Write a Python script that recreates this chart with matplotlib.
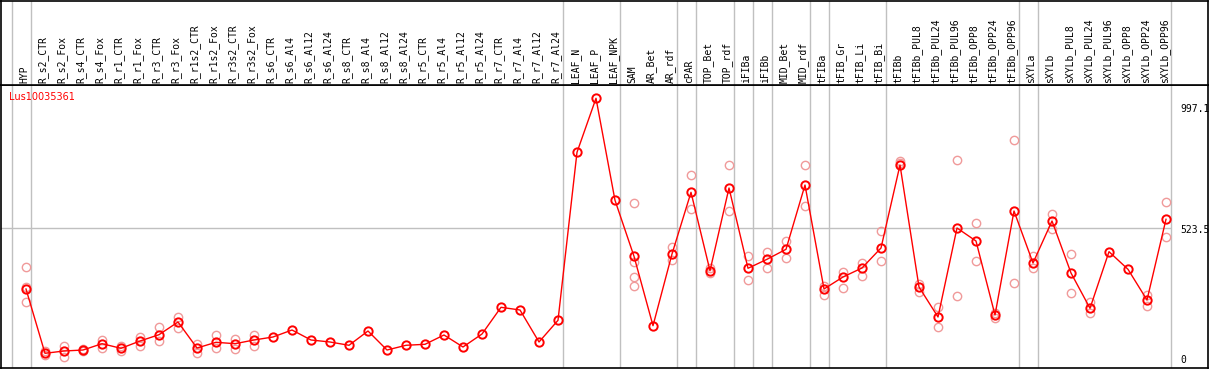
import matplotlib.pyplot as plt
import matplotlib.transforms as mtransforms

# sample names along the top
SAMPLES = ['HYP',
           'R_s2_CTR', 'R_s2_Fox', 'R_s4_CTR', 'R_s4_Fox', 'R_r1_CTR', 'R_r1_Fox',
           'R_r3_CTR', 'R_r3_Fox', 'R_r1s2_CTR', 'R_r1s2_Fox', 'R_r3s2_CTR', 'R_r3s2_Fox',
           'R_s6_CTR', 'R_s6_Al4', 'R_s6_Al12', 'R_s6_Al24',
           'R_s8_CTR', 'R_s8_Al4', 'R_s8_Al12', 'R_s8_Al24',
           'R_r5_CTR', 'R_r5_Al4', 'R_r5_Al12', 'R_r5_Al24',
           'R_r7_CTR', 'R_r7_Al4', 'R_r7_Al12', 'R_r7_Al24',
           'LEAF_N', 'LEAF_P', 'LEAF_NPK',
           'SAM', 'AR_Bet', 'AR_rdf',
           'cPAR', 'TOP_Bet', 'TOP_rdf', 'iFIBa', 'iFIBb', 'MID_Bet', 'MID_rdf',
           'tFIBa', 'tFIB_Gr', 'tFIB_Li', 'tFIB_Bi',
           'tFIBb', 'tFIBb_PUL8', 'tFIBb_PUL24', 'tFIBb_PUL96',
           'tFIBb_OPP8', 'tFIBb_OPP24', 'tFIBb_OPP96',
           'sXYLa',
           'sXYLb', 'sXYLb_PUL8', 'sXYLb_PUL24', 'sXYLb_PUL96',
           'sXYLb_OPP8', 'sXYLb_OPP24', 'sXYLb_OPP96']

# number of samples in each group (gray separators between groups)
GROUP_SIZES = [1, 28, 3, 3, 1, 2, 1, 1, 2, 1, 3, 7, 1, 7]

# mean expression per sample
MEANS = [302.4,
         68.1, 76.5, 80.1, 103.1, 86.3, 112.9,
         135.9, 182.1, 87.4, 108.2, 103.1, 116.6,
         127.5, 153.0, 116.6, 109.3,
         97.3, 149.4, 80.1, 97.3,
         100.9, 134.8, 91.1, 138.4,
         235.7, 225.9, 109.3, 188.3,
         800.4, 997.1, 625.5,
         421.5, 168.7, 429.9,
         654.6, 369.0, 670.3, 377.8, 410.6, 447.0, 681.2,
         302.4, 346.1, 378.9, 451.7,
         754.1, 309.7, 200.4, 524.6,
         477.2, 207.7, 586.5,
         397.1,
         550.1, 360.7, 232.1, 438.3,
         374.1, 262.3, 556.3]

# individual replicates (empty where they sit under the mean)
REPLICATES = [[381.4, 310.7, 256.1],
              [76.5, 61.9], [95.8, 53.6], [83.8, 77.6], [117.7, 88.5], [94.7, 75.4], [128.6, 93.6],
              [162.8, 111.8], [201.5, 159.2], [102.0, 68.1], [134.8, 86.3], [119.1, 83.8], [135.9, 93.6],
              [], [], [], [],
              [], [], [], [],
              [], [], [], [],
              [], [], [], [],
              [], [], [],
              [614.6, 401.8, 345.0, 314.4], [], [455.4, 408.0],
              [717.7, 593.8], [377.8, 359.6], [754.1, 585.4], [421.5, 335.2], [436.1, 380.0],
              [477.2, 416.4], [754.1, 603.6],
              [313.3, 280.5], [364.3, 306.0], [397.1, 349.7], [513.7, 404.4],
              [768.7, 761.4], [320.6, 291.4], [236.8, 163.9], [772.3, 276.9],
              [542.8, 404.4], [214.9, 196.7], [845.2, 324.2],
              [422.6, 378.9],
              [575.6, 520.9], [429.9, 287.8], [253.9, 213.8], [],
              [], [280.5, 241.5], [618.2, 492.9]]

GENE_NAME = 'Lus10035361'
Y_LABELS = ['997.1', '523.5', '0']
Y_LABEL_VALUES = [997.1, 523.5, 0]
GRID_VALUE = 523.5

LINE_COLOR = '#ff0000'
REP_COLOR = '#f09a9a'
SEP_COLOR = '#c0c0c0'
FONT = 'DejaVu Sans Mono'

W, H = 1209, 370
fig = plt.figure(figsize=(W / 100, H / 100), dpi=100)

# pixel layout: columns 19 px apart, first at x=26
x_lo = (0.5 - 26) / 19
x_hi = (1208 - 26) / 19
y_lo = (372 - 368) / 0.2745
y_hi = (372 - 85) / 0.2745

ax = fig.add_axes([0.5 / W, 2 / H, 1207.5 / W, 283 / H])
ax_top = fig.add_axes([0.5 / W, 285 / H, 1207.5 / W, 84.5 / H])

for a in (ax, ax_top):
    a.set_xlim(x_lo, x_hi)
    a.set_xticks([])
    a.set_yticks([])
    for s in a.spines.values():
        s.set_color('black')
        s.set_linewidth(1.2)
ax.set_ylim(y_lo, y_hi)
ax_top.set_ylim(0, 1)

# group separators
seps = [-1]
n = -1
for g in GROUP_SIZES:
    n += g
    seps.append(n)
for s in seps:
    for a in (ax, ax_top):
        a.axvline(s + 0.24, color=SEP_COLOR, lw=1, zorder=1)

ax.hlines(GRID_VALUE, x_lo, len(SAMPLES) - 1 + 0.26, color=SEP_COLOR, lw=1, zorder=1)

xs = list(range(len(SAMPLES)))

# replicates
for i, reps in enumerate(REPLICATES):
    if reps:
        ax.plot([i] * len(reps), reps, 'o', ms=6, mfc='none', mec=REP_COLOR,
                mew=1, zorder=2, clip_on=False)

# means
ax.plot(xs, MEANS, '-', color=LINE_COLOR, lw=1, zorder=3)
ax.plot(xs, MEANS, 'o', ms=6, mfc='none', mec=LINE_COLOR, mew=1.4, zorder=4)

# sample labels
for i, name in enumerate(SAMPLES):
    ax_top.text(i - 0.1, 0.02, name, rotation=90, ha='center', va='bottom',
                fontsize=7, family=FONT)

ax.text(8.5 / 1207.5, (368 - 97.3) / 283, GENE_NAME, transform=ax.transAxes,
        color=LINE_COLOR, fontsize=7, va='center', ha='left')

# value labels on the right
trans = mtransforms.blended_transform_factory(ax.transAxes, ax.transData)
offsets = [(2, -4), (2, -1), (2, 5)]
vas = ['top', 'center', 'bottom']
for lab, v, off, va in zip(Y_LABELS, Y_LABEL_VALUES, offsets, vas):
    xpos = (1178 - 0.5) / 1207.5
    ax.annotate(lab, xy=(xpos, v), xycoords=trans, xytext=off, textcoords='offset points',
                fontsize=7, family=FONT, va=va, ha='left', annotation_clip=False)

fig.savefig('out.png', dpi=100)
